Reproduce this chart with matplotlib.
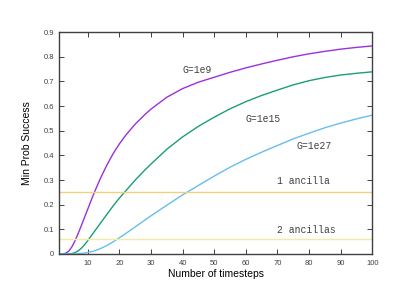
import numpy as np
import matplotlib.pyplot as plt

# %% DATA
x_g9 = [1, 2, 3, 4, 5, 6, 7, 8, 9, 10, 11, 12, 13, 14, 15, 16, 18, 20, 22,
        25, 28, 30, 35, 40, 45, 50, 55, 60, 65, 70, 75, 80, 85, 90, 95, 100]
p_g9 = [0, 0.0003, 0.003, 0.012, 0.03, 0.055, 0.085, 0.117, 0.15, 0.183,
        0.216, 0.248, 0.278, 0.307, 0.334, 0.36, 0.407, 0.447, 0.482, 0.527,
        0.565, 0.588, 0.636, 0.671, 0.697, 0.717, 0.737, 0.755, 0.771, 0.786,
        0.8, 0.812, 0.822, 0.831, 0.838, 0.844]

x_g15 = [1, 3, 4, 5, 6, 7, 8, 9, 10, 12, 14, 16, 18, 20, 22, 25, 28, 30, 35,
         40, 45, 50, 55, 60, 65, 70, 75, 80, 85, 90, 95, 100]
p_g15 = [0, 0, 0.0005, 0.002, 0.006, 0.013, 0.024, 0.038, 0.055, 0.09,
         0.125, 0.16, 0.195, 0.227, 0.256, 0.3, 0.34, 0.365, 0.425, 0.475,
         0.518, 0.555, 0.589, 0.618, 0.643, 0.665, 0.686, 0.703, 0.716, 0.726,
         0.733, 0.739]

x_g27 = [1, 6, 7, 8, 10, 12, 14, 16, 18, 20, 22, 25, 28, 30, 35, 40, 45, 50,
         55, 60, 65, 70, 75, 80, 85, 90, 95, 100]
p_g27 = [0, 0, 0.001, 0.002, 0.006, 0.012, 0.022, 0.034, 0.049, 0.066,
         0.083, 0.11, 0.137, 0.155, 0.198, 0.24, 0.278, 0.316, 0.352, 0.384,
         0.413, 0.44, 0.467, 0.49, 0.512, 0.531, 0.548, 0.563]

one_ancilla = 0.25
two_ancillas = 0.06

x_ticks = [10, 20, 30, 40, 50, 60, 70, 80, 90, 100]
y_ticks = [0, 0.1, 0.2, 0.3, 0.4, 0.5, 0.6, 0.7, 0.8, 0.9]
y_ticklabels = ['0', '0.1', '0.2', '0.3', '0.4', '0.5', '0.6', '0.7', '0.8',
                '0.9']

# %% PLOT
fig = plt.figure(figsize=(3.96, 3.06), dpi=100)
ax = fig.add_axes([0.150, 0.170, 0.790, 0.725])

ax.plot(x_g9, p_g9, color='#9b30dc', lw=1.0)
ax.plot(x_g15, p_g15, color='#1a9e78', lw=1.0)
ax.plot(x_g27, p_g27, color='#68bdec', lw=1.0)
ax.axhline(one_ancilla, color='#f0cf80', lw=1.0)
ax.axhline(two_ancillas, color='#f2eaa8', lw=1.0)

mono = dict(family='Liberation Mono', fontsize=7, color='#404040',
            va='center', ha='left')
ax.text(40, 0.746, 'G=1e9', **mono)
ax.text(59.8, 0.548, 'G=1e15', **mono)
ax.text(75.9, 0.438, 'G=1e27', **mono)
ax.text(70, 0.296, '1 ancilla', **mono)
ax.text(70, 0.097, '2 ancillas', **mono)

ax.set_xlim(1, 100)
ax.set_ylim(0, 0.9)
ax.set_xticks(x_ticks)
ax.set_yticks(y_ticks)
ax.set_yticklabels(y_ticklabels)
ax.tick_params(direction='in', length=3.5, width=0.7, color='#404040',
               top=True, right=True, labelsize=5.5, labelcolor='#404040',
               pad=4)
for tl in ax.get_xticklabels() + ax.get_yticklabels():
    tl.set_family('Liberation Sans')
for sp in ax.spines.values():
    sp.set_color('#404040')
    sp.set_linewidth(1.0)

ax.set_xlabel('Number of timesteps', family='Liberation Sans', fontsize=7.5,
              labelpad=2)
ax.set_ylabel('Min Prob Success', family='Liberation Sans', fontsize=7.5,
              labelpad=8)

plt.savefig('out.png', dpi=100)
